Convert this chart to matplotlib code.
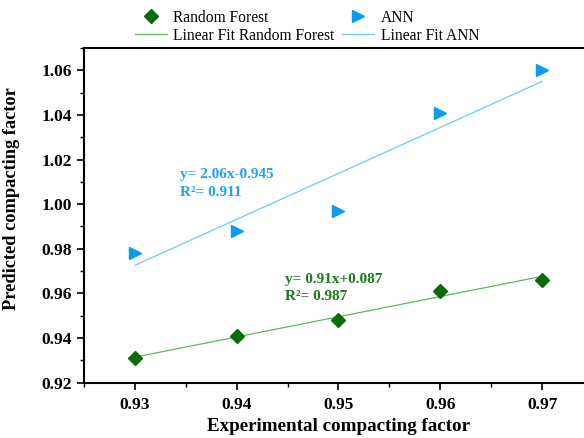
import numpy as np
import matplotlib
matplotlib.use('Agg')
import matplotlib.pyplot as plt
from matplotlib.ticker import MultipleLocator

# Experimental vs predicted compacting factor
x_exp = [0.93, 0.94, 0.95, 0.96, 0.97]
rf_pred = [0.931, 0.941, 0.948, 0.961, 0.966]
ann_pred = [0.978, 0.988, 0.997, 1.041, 1.060]

# fit lines as drawn in the figure (slope, intercept)
rf_fit_coef = [0.905, 0.0898]
ann_fit_coef = [2.06, -0.9432]

rf_label = 'y= 0.91x+0.087\nR\u00b2= 0.987'
ann_label = 'y= 2.06x-0.945\nR\u00b2= 0.911'

plt.rcParams['font.family'] = ['Liberation Serif', 'DejaVu Serif']

fig = plt.figure(figsize=(5.84, 4.38), dpi=100)
ax = fig.add_axes([0.1438, 0.1263, 0.8716, 0.7641])

xs = np.array([x_exp[0], x_exp[-1]])

rf_pts, = ax.plot(x_exp, rf_pred, 'D', color='#0b6b0b', markersize=7, linestyle='none',
                  label='Random Forest', zorder=3)
ann_pts, = ax.plot(x_exp, ann_pred, '>', color='#0a9cf2', markersize=9, linestyle='none',
                   label='ANN', zorder=3)
rf_fit, = ax.plot(xs, np.polyval(rf_fit_coef, xs), color='#5cb85c', lw=0.9,
                  label='Linear Fit Random Forest')
ann_fit, = ax.plot(xs, np.polyval(ann_fit_coef, xs), color='#6cc8ff', lw=0.9,
                   label='Linear Fit ANN')

ax.text(0.9344, 1.0160, ann_label, color='#1ea3f0', fontsize=11, fontweight='bold',
        va='top', ha='left', linespacing=1.45)
ax.text(0.9447, 0.9692, rf_label, color='#1a7a1a', fontsize=11, fontweight='bold',
        va='top', ha='left', linespacing=1.45)

ax.set_xlim(0.925, 0.975)
ax.set_ylim(0.92, 1.07)
ax.xaxis.set_minor_locator(MultipleLocator(0.005))
ax.yaxis.set_major_locator(MultipleLocator(0.02))
ax.yaxis.set_minor_locator(MultipleLocator(0.01))
ax.set_xticks([0.93, 0.94, 0.95, 0.96, 0.97])
ax.set_xticklabels(['0.93', '0.94', '0.95', '0.96', '0.97'])
ax.tick_params(axis='both', which='major', direction='out', length=5, width=1.2,
               labelsize=12.5)
ax.tick_params(axis='x', which='major', pad=5)
ax.tick_params(axis='both', which='minor', direction='out', length=3, width=1.0)
for lab in ax.get_xticklabels() + ax.get_yticklabels():
    lab.set_fontweight('bold')
for s in ax.spines.values():
    s.set_linewidth(1.5)

ax.set_xlabel('Experimental compacting factor', fontsize=13.7, fontweight='bold', labelpad=4)
ax.set_ylabel('Predicted compacting factor', fontsize=13.2, fontweight='bold')
ax.yaxis.set_label_coords(-0.125, 0.55)

fig.legend(handles=[rf_pts, rf_fit, ann_pts, ann_fit], ncol=2, frameon=False,
           loc='upper left', bbox_to_anchor=(0.213, 1.003), fontsize=11.2,
           handlelength=2.05, columnspacing=0.5, labelspacing=0.15, borderpad=0.2,
           handletextpad=0.4)

fig.savefig('out.png', dpi=100)
